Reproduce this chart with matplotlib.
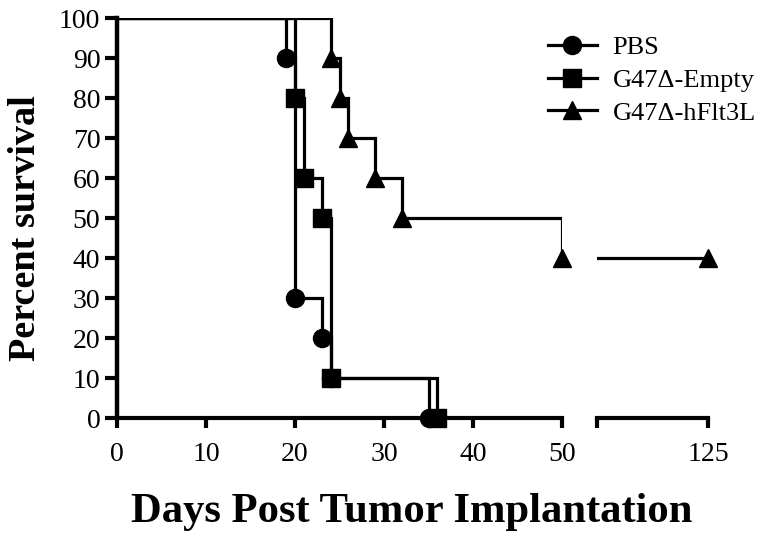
import matplotlib
matplotlib.use("Agg")
import matplotlib.pyplot as plt

plt.rcParams['font.family'] = ['Liberation Serif', 'DejaVu Serif']

# Kaplan-Meier data (days, percent survival)
pbs_days = [0, 19, 20, 23, 24, 35]
pbs_surv = [100, 90, 30, 20, 10, 0]

empty_days = [0, 20, 21, 23, 24, 36]
empty_surv = [100, 80, 60, 50, 10, 0]

flt_days = [0, 24, 25, 26, 29, 32, 50]
flt_surv = [100, 90, 80, 70, 60, 50, 40]
flt_tail_days = [115, 125]
flt_tail_surv = [40, 40]

labels = ['PBS', 'G47Δ-Empty', 'G47Δ-hFlt3L']
y_ticks = list(range(0, 101, 10))
x_ticks = [0, 10, 20, 30, 40, 50]

LW = 2.3
MS = 13
TICK_FS = 20

fig = plt.figure(figsize=(7.69, 5.4), dpi=100)
ax = fig.add_axes([117 / 769, 122 / 540, 445 / 769, 400 / 540])
ax2 = fig.add_axes([597 / 769, 122 / 540, 111 / 769, 400 / 540])


def km(ax, days, surv, marker, label=None):
    ax.step(days, surv, where='post', color='black', lw=LW, solid_joinstyle='miter')
    ax.plot(days[1:], surv[1:], ls='none', marker=marker, ms=MS, color='black',
            clip_on=False, zorder=3)
    if label:
        ax.plot([], [], color='black', lw=LW, marker=marker, ms=MS, label=label)


km(ax, pbs_days, pbs_surv, 'o', labels[0])
km(ax, empty_days, empty_surv, 's', labels[1])
km(ax, flt_days, flt_surv, '^', labels[2])

ax2.plot(flt_tail_days, flt_tail_surv, color='black', lw=LW)
ax2.plot(flt_tail_days[-1:], flt_tail_surv[-1:], ls='none', marker='^', ms=MS,
         color='black', clip_on=False, zorder=3)

ax.set_xlim(0, 50)
ax.set_ylim(0, 100)
ax.set_xticks(x_ticks)
ax.set_yticks(y_ticks)
ax2.set_xlim(115, 125)
ax2.set_ylim(0, 100)
ax2.set_xticks([115, 125])
ax2.set_xticklabels(['', '125'])
ax2.set_yticks([])

# end caps of the broken axis poke up above the line
ax.set_xticks([50], minor=True)
ax2.set_xticks([115], minor=True)

for a in (ax, ax2):
    a.spines['top'].set_visible(False)
    a.spines['right'].set_visible(False)
    a.spines['bottom'].set_linewidth(3)
    a.tick_params(axis='both', direction='out', width=3, labelsize=TICK_FS)
    a.tick_params(axis='x', length=7.5, pad=10)
    a.tick_params(axis='x', which='minor', direction='in', length=5, width=3)
    a.patch.set_alpha(0)
ax.tick_params(axis='y', length=9, pad=3)
ax.spines['left'].set_linewidth(3.2)
ax2.spines['left'].set_visible(False)

fig.text(412 / 769, 1 - 522 / 540, 'Days Post Tumor Implantation',
         ha='center', va='baseline', fontsize=30.7, fontweight='bold')
fig.text(26 / 769, 1 - 228 / 540, 'Percent survival', rotation=90,
         ha='center', va='center', fontsize=27.5, fontweight='bold')

ax.legend(loc='upper left', bbox_to_anchor=(524 / 769, 1 - 12 / 540),
          bbox_transform=fig.transFigure, frameon=False, fontsize=19,
          handlelength=1.85, handletextpad=0.6, labelspacing=0.35)

fig.savefig('out.png', dpi=100)
